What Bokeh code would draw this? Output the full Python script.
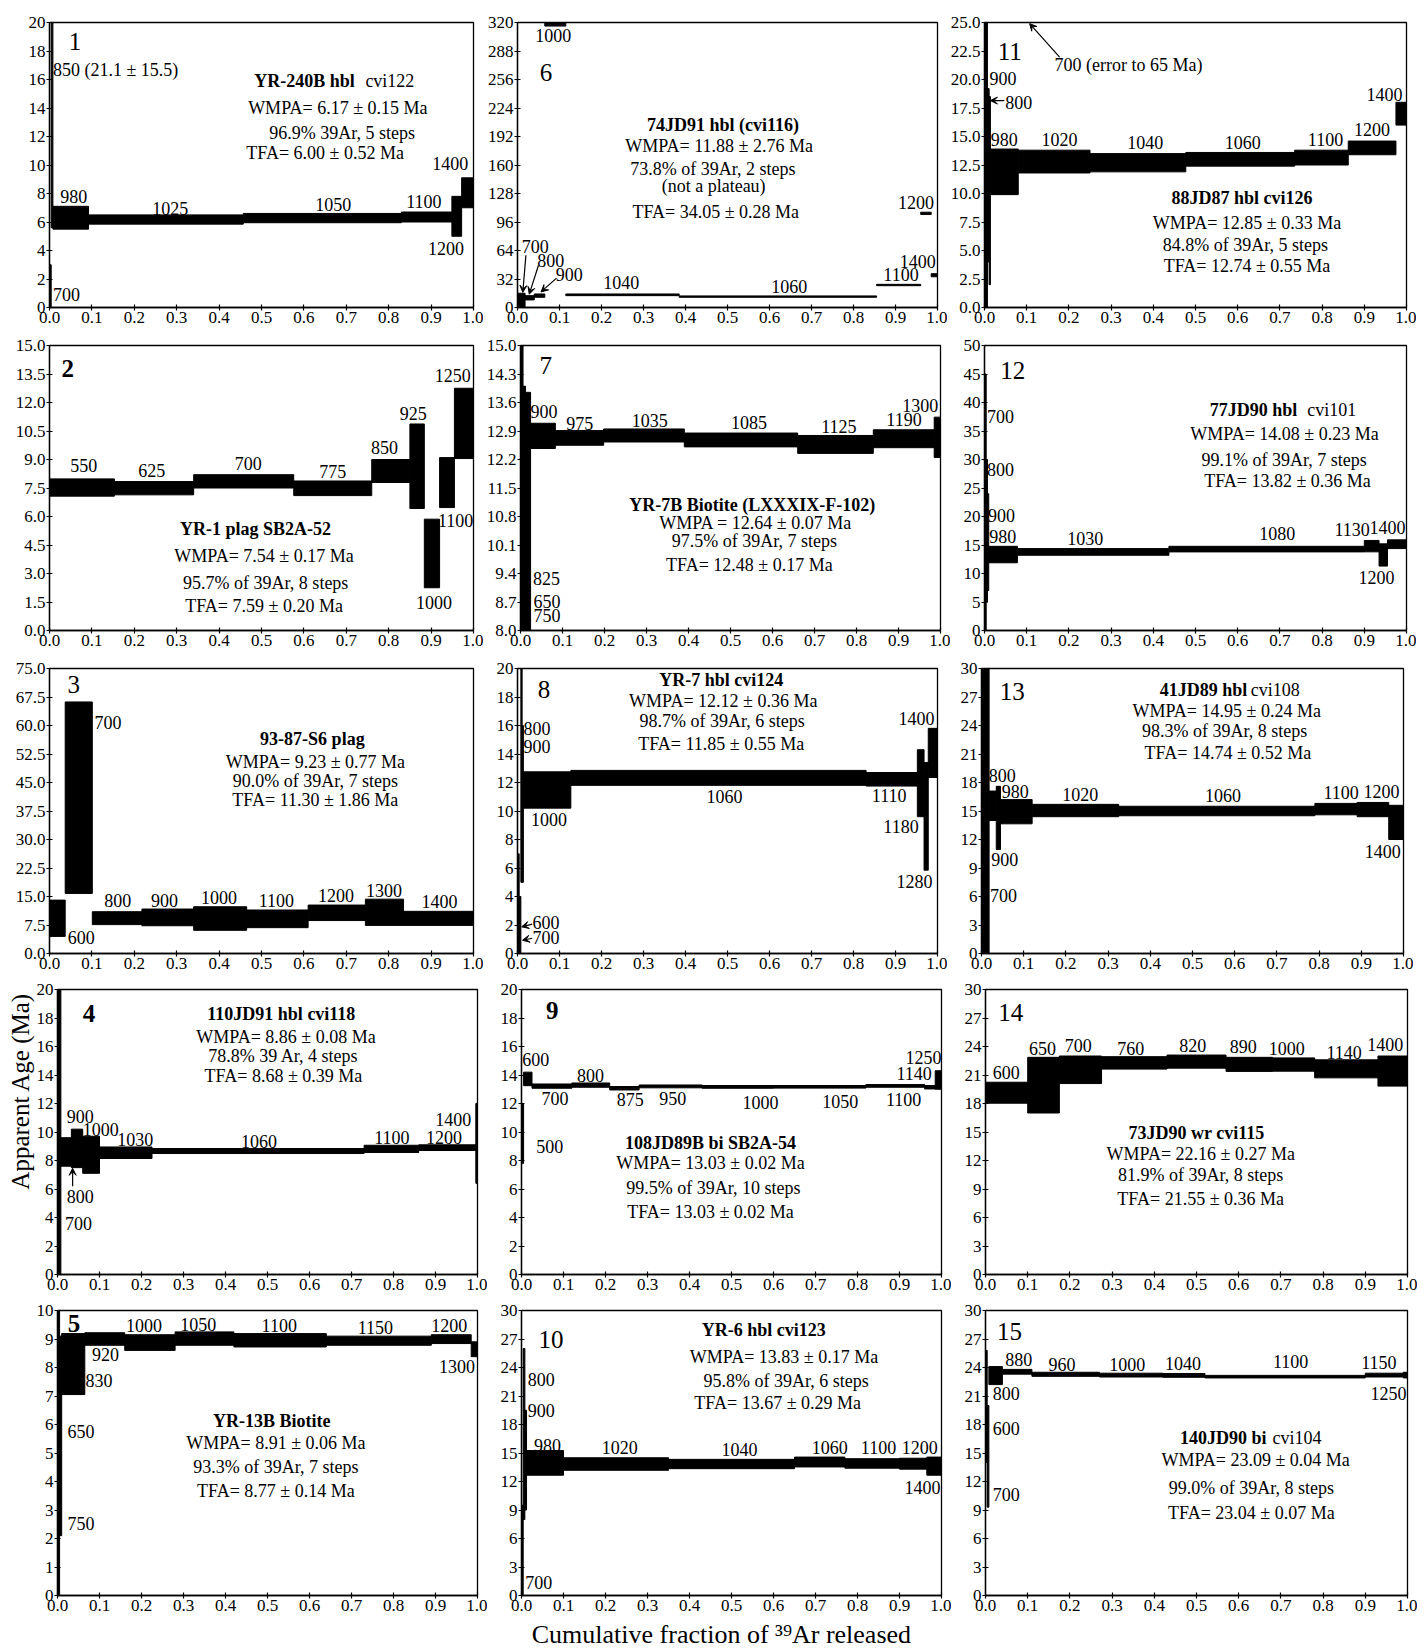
import math
from bokeh.plotting import figure
from bokeh.layouts import column, row
from bokeh.models import (Range1d, FixedTicker, Arrow, VeeHead, NumeralTickFormatter, LinearAxis,
                          CustomJSTickFormatter, Title)
from bokeh.core.properties import value
from bokeh.embed import file_html
from bokeh.resources import INLINE

FONT = "Liberation Serif"

x_tick_labels = ["0.0", "0.1", "0.2", "0.3", "0.4", "0.5", "0.6", "0.7", "0.8", "0.9", "1.0"]
y_title = "Apparent Age (Ma)"
x_title = "Cumulative fraction of \u00b3\u2079Ar released"

# ---------------- data: steps (temperature), cumulative 39Ar fraction edges, age band low/high (Ma)
p1_temp = ["700", "850", "980", "1025", "1050", "1100", "1200", "1400"]
p1_cum = [0.0, 0.004, 0.008, 0.092, 0.457, 0.83, 0.949, 0.972, 1.0]
p1_lo = [0.0, 5.6, 5.5, 5.85, 5.95, 6.0, 5.0, 7.0]
p1_hi = [3.0, 36.6, 7.1, 6.5, 6.6, 6.7, 7.8, 9.1]
p1_yticks = ["0", "2", "4", "6", "8", "10", "12", "14", "16", "18", "20"]

p2_temp = ["550", "625", "700", "775", "850", "925", "1000", "1100", "1250"]
p2_cum = [0.0, 0.153, 0.34, 0.576, 0.76, 0.85, 0.884, 0.92, 0.955, 1.0]
p2_lo = [7.07, 7.14, 7.5, 7.1, 7.79, 6.42, 2.25, 6.47, 9.05]
p2_hi = [7.98, 7.84, 8.2, 7.87, 9.0, 10.87, 5.86, 9.1, 12.75]
p2_yticks = ["0.0", "1.5", "3.0", "4.5", "6.0", "7.5", "9.0", "10.5", "12.0", "13.5", "15.0"]

p3_temp = ["600", "700", "800", "900", "1000", "1100", "1200", "1300", "1400"]
p3_cum = [0.0, 0.037, 0.101, 0.218, 0.34, 0.465, 0.61, 0.745, 0.835, 1.0]
p3_lo = [4.5, 15.8, 7.6, 7.3, 6.1, 6.8, 8.67, 7.4, 7.4]
p3_hi = [14.05, 66.2, 11.0, 11.7, 12.3, 11.45, 12.75, 14.3, 11.1]
p3_yticks = ["0.0", "7.5", "15.0", "22.5", "30.0", "37.5", "45.0", "52.5", "60.0", "67.5", "75.0"]

p4_temp = ["700", "800", "900", "1000", "1030", "1060", "1100", "1200", "1400"]
p4_cum = [0.0, 0.008, 0.033, 0.06, 0.1, 0.225, 0.73, 0.86, 0.996, 1.0]
p4_lo = [-1.0, 7.6, 7.5, 7.1, 8.14, 8.49, 8.56, 8.7, 6.4]
p4_hi = [25.0, 9.6, 10.2, 9.7, 8.95, 8.84, 9.07, 9.1, 12.0]
p4_yticks = ["0", "2", "4", "6", "8", "10", "12", "14", "16", "18", "20"]

p5_temp = ["650", "750", "830", "920", "1000", "1050", "1100", "1150", "1200", "1300"]
p5_cum = [0.0, 0.005, 0.01, 0.065, 0.16, 0.28, 0.42, 0.64, 0.89, 0.985, 1.0]
p5_lo = [-1.0, 2.1, 7.05, 8.78, 8.6, 8.78, 8.72, 8.78, 8.84, 8.38]
p5_hi = [11.0, 9.1, 9.19, 9.22, 9.15, 9.25, 9.19, 9.1, 9.15, 8.9]
p5_yticks = ["0", "1", "2", "3", "4", "5", "6", "7", "8", "9", "10"]

p6_temp = ["700", "800", "900", "1000", "1040", "1060", "1100", "1200", "1400"]
p6_cum = [0.0, 0.018, 0.04, 0.065, 0.115, 0.385, 0.855, 0.96, 0.985, 1.0]
p6_lo = [0.0, 8.5, 11.5, 316.0, 13.3, 11.5, 24.5, 104.5, 34.5]
p6_hi = [16.0, 13.3, 15.2, 324.0, 15.2, 13.0, 26.0, 107.0, 38.0]
p6_yticks = ["0", "32", "64", "96", "128", "160", "192", "224", "256", "288", "320"]

p7_temp = ["650", "750", "825", "900", "975", "1035", "1085", "1125", "1190", "1300"]
p7_cum = [0.0, 0.006, 0.012, 0.024, 0.083, 0.198, 0.39, 0.66, 0.84, 0.985, 1.0]
p7_lo = [5.0, 4.0, 7.0, 12.47, 12.55, 12.63, 12.51, 12.35, 12.49, 12.25]
p7_hi = [20.0, 14.0, 13.85, 13.09, 12.91, 12.95, 12.85, 12.79, 12.93, 13.24]
p7_yticks = ["8.0", "8.7", "9.4", "10.1", "10.8", "11.5", "12.2", "12.9", "13.6", "14.3", "15.0"]

p8_temp = ["600", "700", "800", "900", "1000", "1060", "1110", "1180", "1280", "1400"]
p8_cum = [0.0, 0.004, 0.008, 0.011, 0.014, 0.127, 0.83, 0.952, 0.968, 0.978, 1.0]
p8_lo = [-3.0, -2.0, 5.0, 5.0, 10.2, 11.8, 11.75, 9.6, 5.85, 12.35]
p8_hi = [7.0, 4.0, 26.0, 16.0, 12.75, 12.85, 12.7, 14.3, 13.4, 15.8]
p8_yticks = ["0", "2", "4", "6", "8", "10", "12", "14", "16", "18", "20"]

p9_temp = ["500", "600", "700", "800", "875", "950", "1000", "1050", "1100", "1140", "1250"]
p9_cum = [0.0, 0.005, 0.025, 0.12, 0.21, 0.28, 0.43, 0.6, 0.82, 0.96, 0.985, 1.0]
p9_lo = [7.8, 13.25, 13.07, 13.14, 12.95, 13.1, 13.07, 13.08, 13.14, 13.02, 13.0]
p9_hi = [12.0, 14.2, 13.37, 13.44, 13.19, 13.3, 13.26, 13.26, 13.33, 13.26, 14.3]
p9_yticks = ["0", "2", "4", "6", "8", "10", "12", "14", "16", "18", "20"]

p10_temp = ["700", "800", "900", "980", "1020", "1040", "1060", "1100", "1200", "1400"]
p10_cum = [0.0, 0.004, 0.008, 0.012, 0.1, 0.35, 0.65, 0.77, 0.9, 0.965, 1.0]
p10_lo = [0.0, 8.0, 9.0, 12.66, 13.18, 13.35, 13.53, 13.4, 13.3, 12.66]
p10_hi = [9.5, 26.0, 19.5, 15.26, 14.5, 14.33, 14.57, 14.4, 14.45, 14.57]
p10_yticks = ["0", "3", "6", "9", "12", "15", "18", "21", "24", "27", "30"]

p11_temp = ["700", "800", "900", "980", "1020", "1040", "1060", "1100", "1200", "1400"]
p11_cum = [0.0, 0.007, 0.011, 0.014, 0.08, 0.25, 0.477, 0.735, 0.862, 0.975, 1.0]
p11_lo = [-5.0, 4.0, 2.0, 9.9, 11.8, 11.9, 12.4, 12.5, 13.4, 16.0]
p11_hi = [65.0, 19.2, 18.5, 13.9, 13.8, 13.5, 13.6, 13.8, 14.6, 18.0]
p11_yticks = ["0.0", "2.5", "5.0", "7.5", "10.0", "12.5", "15.0", "17.5", "20.0", "22.5", "25.0"]

p12_temp = ["700", "800", "900", "980", "1030", "1080", "1130", "1200", "1400"]
p12_cum = [0.0, 0.004, 0.007, 0.01, 0.078, 0.437, 0.9, 0.935, 0.955, 1.0]
p12_lo = [0.0, 5.0, 7.0, 11.88, 13.2, 13.79, 13.8, 11.3, 14.37]
p12_hi = [45.0, 30.0, 24.0, 14.77, 14.37, 14.77, 15.8, 15.2, 15.9]
p12_yticks = ["0", "5", "10", "15", "20", "25", "30", "35", "40", "45", "50"]

p13_temp = ["700", "800", "900", "980", "1020", "1060", "1100", "1200", "1400"]
p13_cum = [0.0, 0.018, 0.035, 0.045, 0.12, 0.325, 0.79, 0.89, 0.965, 1.0]
p13_lo = [-2.0, 14.0, 10.95, 13.65, 14.4, 14.5, 14.6, 14.4, 12.0]
p13_hi = [35.0, 17.1, 17.6, 16.2, 15.7, 15.5, 15.8, 15.9, 15.6]
p13_yticks = ["0", "3", "6", "9", "12", "15", "18", "21", "24", "27", "30"]

p14_temp = ["600", "650", "700", "760", "820", "890", "1000", "1140", "1400"]
p14_cum = [0.0, 0.1, 0.175, 0.275, 0.43, 0.57, 0.68, 0.78, 0.93, 1.0]
p14_lo = [18.03, 17.0, 20.1, 21.62, 21.72, 21.38, 21.4, 20.7, 19.83]
p14_hi = [20.24, 22.86, 23.0, 22.93, 23.1, 22.86, 22.8, 22.6, 23.0]
p14_yticks = ["0", "3", "6", "9", "12", "15", "18", "21", "24", "27", "30"]

p15_temp = ["600", "700", "800", "880", "960", "1000", "1040", "1100", "1150", "1250"]
p15_cum = [0.0, 0.004, 0.008, 0.04, 0.11, 0.27, 0.42, 0.52, 0.9, 0.99, 1.0]
p15_lo = [14.0, 9.3, 22.2, 23.3, 23.07, 23.0, 22.97, 22.9, 23.0, 22.9]
p15_hi = [25.8, 20.0, 24.1, 23.8, 23.5, 23.4, 23.37, 23.17, 23.4, 23.5]
p15_yticks = ["0", "3", "6", "9", "12", "15", "18", "21", "24", "27", "30"]

# ---------------- annotations (texts with positions in data units)
B, N = "bold", "normal"
PANELS = {
    1: dict(data=(p1_cum, p1_lo, p1_hi, p1_yticks), num=(0.06, 18.7, N),
            steps=[("850 (21.1 ± 15.5)", 0.008, 16.7, N, "left"), ("700", 0.008, 0.93, N, "left"),
                   ("980", 0.057, 7.77), ("1025", 0.285, 6.93), ("1050", 0.669, 7.23), ("1100", 0.883, 7.47),
                   ("1400", 0.945, 10.1), ("1200", 0.935, 4.13)],
            info=[("YR-240B hbl", 0.72, 15.9, B, "right"), ("cvi122", 0.745, 15.9, N, "left"),
                  ("WMPA= 6.17 ± 0.15 Ma", 0.68, 14.0), ("96.9% 39Ar, 5 steps", 0.69, 12.25),
                  ("TFA= 6.00 ± 0.52 Ma", 0.65, 10.85)],
            arrows=[]),
    2: dict(data=(p2_cum, p2_lo, p2_hi, p2_yticks), num=(0.043, 13.8, B),
            steps=[("550", 0.081, 8.67), ("625", 0.241, 8.41), ("700", 0.469, 8.79), ("775", 0.668, 8.38),
                   ("850", 0.79, 9.62), ("925", 0.858, 11.44), ("1250", 0.951, 13.44), ("1100", 0.958, 5.81),
                   ("1000", 0.907, 1.47)],
            info=[("YR-1 plag SB2A-52", 0.486, 5.34, B), ("WMPA= 7.54 ± 0.17 Ma", 0.506, 3.9),
                  ("95.7% of 39Ar, 8 steps", 0.51, 2.51), ("TFA= 7.59 ± 0.20 Ma", 0.506, 1.3)],
            arrows=[]),
    3: dict(data=(p3_cum, p3_lo, p3_hi, p3_yticks), num=(0.057, 70.7, N),
            steps=[("700", 0.106, 60.7, N, "left"), ("600", 0.075, 4.3), ("800", 0.161, 13.9), ("900", 0.271, 14.05),
                   ("1000", 0.4, 14.7), ("1100", 0.535, 13.9), ("1200", 0.676, 15.2), ("1300", 0.789, 16.65),
                   ("1400", 0.92, 13.7)],
            info=[("93-87-S6 plag", 0.62, 56.4, B), ("WMPA= 9.23 ± 0.77 Ma", 0.627, 50.3),
                  ("90.0% of 39Ar, 7 steps", 0.627, 45.5), ("TFA= 11.30 ± 1.86 Ma", 0.627, 40.3)],
            arrows=[]),
    4: dict(data=(p4_cum, p4_lo, p4_hi, p4_yticks), num=(0.075, 18.3, B),
            steps=[("900", 0.054, 11.1), ("1000", 0.103, 10.2), ("1030", 0.185, 9.5), ("1060", 0.48, 9.35),
                   ("1100", 0.796, 9.58), ("1200", 0.92, 9.58), ("1400", 0.942, 10.9), ("800", 0.054, 5.47),
                   ("700", 0.05, 3.6)],
            info=[("110JD91 hbl cvi118", 0.533, 18.3, B), ("WMPA= 8.86 ± 0.08 Ma", 0.544, 16.7),
                  ("78.8% 39 Ar, 4 steps", 0.538, 15.35), ("TFA= 8.68 ± 0.39 Ma", 0.538, 13.95)],
            arrows=[(0.036, 6.2, 0.036, 7.45)]),
    5: dict(data=(p5_cum, p5_lo, p5_hi, p5_yticks), num=(0.039, 9.54, B),
            steps=[("1000", 0.206, 9.48), ("1050", 0.335, 9.51), ("1100", 0.528, 9.48), ("1150", 0.757, 9.42),
                   ("1200", 0.933, 9.48), ("920", 0.114, 8.44), ("830", 0.099, 7.53), ("1300", 0.951, 8.03),
                   ("650", 0.056, 5.77), ("750", 0.056, 2.53)],
            info=[("YR-13B Biotite", 0.51, 6.14, B), ("WMPA= 8.91 ± 0.06 Ma", 0.52, 5.34),
                  ("93.3% of 39Ar, 7 steps", 0.52, 4.5), ("TFA= 8.77 ± 0.14 Ma", 0.52, 3.68)],
            arrows=[]),
    6: dict(data=(p6_cum, p6_lo, p6_hi, p6_yticks), num=(0.068, 264, N),
            steps=[("1000", 0.085, 305), ("700", 0.042, 68), ("800", 0.079, 53), ("900", 0.123, 37),
                   ("1040", 0.247, 28), ("1060", 0.647, 23.4), ("1100", 0.913, 37), ("1400", 0.953, 52),
                   ("1200", 0.949, 118)],
            info=[("74JD91 hbl (cvi116)", 0.489, 205, B), ("WMPA= 11.88 ± 2.76 Ma", 0.48, 181),
                  ("73.8% of 39Ar, 2 steps", 0.465, 156), ("(not a plateau)", 0.467, 136),
                  ("TFA= 34.05 ± 0.28 Ma", 0.472, 107)],
            arrows=[(0.02, 58.6, 0.0126, 17.0), (0.05, 47.5, 0.028, 15.0), (0.093, 33.0, 0.056, 17.5)]),
    7: dict(data=(p7_cum, p7_lo, p7_hi, p7_yticks), num=(0.06, 14.5, N),
            steps=[("900", 0.056, 13.39), ("975", 0.141, 13.09), ("1035", 0.308, 13.17), ("1085", 0.544, 13.11),
                   ("1125", 0.758, 13.01), ("1190", 0.913, 13.19), ("1300", 0.952, 13.53), ("825", 0.062, 9.28),
                   ("650", 0.063, 8.72), ("750", 0.063, 8.38)],
            info=[("YR-7B Biotite (LXXXIX-F-102)", 0.552, 11.09, B), ("WMPA = 12.64 ± 0.07 Ma", 0.56, 10.65),
                  ("97.5% of 39Ar, 7 steps", 0.557, 10.2), ("TFA= 12.48 ± 0.17 Ma", 0.545, 9.6)],
            arrows=[]),
    8: dict(data=(p8_cum, p8_lo, p8_hi, p8_yticks), num=(0.063, 18.5, N),
            steps=[("800", 0.014, 15.8, N, "left"), ("900", 0.014, 14.56, N, "left"), ("1000", 0.075, 9.42),
                   ("1060", 0.493, 11.05), ("1110", 0.885, 11.12), ("1180", 0.913, 8.88), ("1280", 0.945, 5.05),
                   ("1400", 0.95, 16.5), ("600", 0.036, 2.17, N, "left"), ("700", 0.036, 1.12, N, "left")],
            info=[("YR-7 hbl cvi124", 0.485, 19.2, B), ("WMPA= 12.12 ± 0.36 Ma", 0.49, 17.7),
                  ("98.7% of 39Ar, 6 steps", 0.487, 16.3), ("TFA= 11.85 ± 0.55 Ma", 0.485, 14.7)],
            arrows=[(0.035, 2.06, 0.01, 1.87), (0.035, 1.07, 0.012, 0.93)]),
    9: dict(data=(p9_cum, p9_lo, p9_hi, p9_yticks), num=(0.073, 18.5, B),
            steps=[("600", 0.034, 15.07), ("800", 0.164, 13.95), ("700", 0.08, 12.37), ("875", 0.259, 12.28),
                   ("950", 0.36, 12.33), ("1000", 0.569, 12.05), ("1050", 0.759, 12.14), ("1100", 0.91, 12.28),
                   ("1140", 0.935, 14.14), ("1250", 0.957, 15.23), ("500", 0.067, 8.95)],
            info=[("108JD89B bi SB2A-54", 0.45, 9.2, B), ("WMPA= 13.03 ± 0.02 Ma", 0.45, 7.8),
                  ("99.5% of 39Ar, 10 steps", 0.457, 6.1), ("TFA= 13.03 ± 0.02 Ma", 0.45, 4.4)],
            arrows=[]),
    10: dict(data=(p10_cum, p10_lo, p10_hi, p10_yticks), num=(0.07, 27.0, N),
             steps=[("800", 0.047, 22.7), ("900", 0.047, 19.5), ("980", 0.062, 15.8), ("1020", 0.234, 15.6),
                    ("1040", 0.519, 15.33), ("1060", 0.734, 15.6), ("1100", 0.85, 15.54), ("1200", 0.948, 15.54),
                    ("1400", 0.955, 11.38), ("700", 0.041, 1.39)],
             info=[("YR-6 hbl cvi123", 0.577, 27.9, B), ("WMPA= 13.83 ± 0.17 Ma", 0.625, 25.1),
                   ("95.8% of 39Ar, 6 steps", 0.63, 22.6), ("TFA= 13.67 ± 0.29 Ma", 0.61, 20.3)],
             arrows=[]),
    11: dict(data=(p11_cum, p11_lo, p11_hi, p11_yticks), num=(0.06, 22.5, N),
             steps=[("700 (error to 65 Ma)", 0.166, 21.3, N, "left"), ("900", 0.012, 20.1, N, "left"),
                    ("800", 0.049, 18.0, N, "left"), ("980", 0.047, 14.74), ("1020", 0.178, 14.74),
                    ("1040", 0.381, 14.45), ("1060", 0.612, 14.5), ("1100", 0.808, 14.74), ("1200", 0.918, 15.6),
                    ("1400", 0.948, 18.7)],
             info=[("88JD87 hbl cvi126", 0.61, 9.6, B), ("WMPA= 12.85 ± 0.33 Ma", 0.622, 7.37),
                   ("84.8% of 39Ar, 5 steps", 0.618, 5.5), ("TFA= 12.74 ± 0.55 Ma", 0.622, 3.6)],
             arrows=[(0.178, 21.97, 0.107, 24.9), (0.047, 18.15, 0.014, 18.15)]),
    12: dict(data=(p12_cum, p12_lo, p12_hi, p12_yticks), num=(0.067, 45.6, N),
             steps=[("700", 0.006, 37.5, N, "left"), ("800", 0.006, 28.3, N, "left"), ("900", 0.008, 20.2, N, "left"),
                    ("980", 0.043, 16.5), ("1030", 0.239, 16.1), ("1080", 0.694, 17.0), ("1130", 0.871, 17.8),
                    ("1400", 0.955, 18.1), ("1200", 0.929, 9.27)],
             info=[("77JD90 hbl", 0.741, 38.7, B, "right"), ("cvi101", 0.765, 38.7, N, "left"),
                   ("WMPA= 14.08 ± 0.23 Ma", 0.711, 34.4), ("99.1% of 39Ar, 7 steps", 0.71, 30.0),
                   ("TFA= 13.82 ± 0.36 Ma", 0.718, 26.2)],
             arrows=[]),
    13: dict(data=(p13_cum, p13_lo, p13_hi, p13_yticks), num=(0.073, 27.6, N),
             steps=[("800", 0.017, 18.7, N, "left"), ("980", 0.08, 17.1), ("900", 0.023, 9.9, N, "left"),
                    ("700", 0.02, 6.1, N, "left"), ("1020", 0.234, 16.7), ("1060", 0.572, 16.6), ("1100", 0.852, 16.9),
                    ("1200", 0.948, 17.1), ("1400", 0.951, 10.7)],
             info=[("41JD89 hbl", 0.63, 27.7, B, "right"), ("cvi108", 0.638, 27.7, N, "left"),
                   ("WMPA= 14.95 ± 0.24 Ma", 0.581, 25.5), ("98.3% of 39Ar, 8 steps", 0.576, 23.4),
                   ("TFA= 14.74 ± 0.52 Ma", 0.584, 21.1)],
             arrows=[]),
    14: dict(data=(p14_cum, p14_lo, p14_hi, p14_yticks), num=(0.06, 27.6, N),
             steps=[("600", 0.049, 21.3), ("650", 0.135, 23.8), ("700", 0.22, 24.07), ("760", 0.344, 23.8),
                    ("820", 0.491, 24.14), ("890", 0.611, 23.97), ("1000", 0.714, 23.8), ("1140", 0.85, 23.34),
                    ("1400", 0.947, 24.24)],
             info=[("73JD90 wr cvi115", 0.5, 14.9, B), ("WMPA= 22.16 ± 0.27 Ma", 0.51, 12.7),
                   ("81.9% of 39Ar, 8 steps", 0.51, 10.5), ("TFA= 21.55 ± 0.36 Ma", 0.51, 7.9)],
             arrows=[]),
    15: dict(data=(p15_cum, p15_lo, p15_hi, p15_yticks), num=(0.057, 27.8, N),
             steps=[("880", 0.079, 24.87), ("960", 0.181, 24.35), ("1000", 0.336, 24.35), ("1040", 0.468, 24.45),
                    ("1100", 0.723, 24.6), ("1150", 0.932, 24.56), ("800", 0.049, 21.3), ("1250", 0.955, 21.3),
                    ("600", 0.049, 17.6), ("700", 0.049, 10.65)],
             info=[("140JD90 bi", 0.666, 16.6, B, "right"), ("cvi104", 0.68, 16.6, N, "left"),
                   ("WMPA= 23.09 ± 0.04 Ma", 0.64, 14.3), ("99.0% of 39Ar, 8 steps", 0.63, 11.3),
                   ("TFA= 23.04 ± 0.07 Ma", 0.63, 8.7)],
             arrows=[]),
}

GRID = [[1, 6, 11], [2, 7, 12], [3, 8, 13], [4, 9, 14], [5, 10, 15]]
FRAME_H = 285
ROW_BORDERS = [(22, 26), (12, 26), (12, 26), (10, 26), (10, 40)]
COLS_TOP = [(49, 424, 10), (34, 420, 10), (34, 422, 10)]
COLS_BOTTOM = [(57, 420, 10), (34, 420, 10), (34, 422, 10)]


def add_texts(p, items, size):
    groups = {}
    for it in items:
        txt, x, y = it[0], it[1], it[2]
        style = it[3] if len(it) > 3 else "normal"
        align = it[4] if len(it) > 4 else "center"
        g = groups.setdefault((style, align), ([], [], []))
        g[0].append(x)
        g[1].append(y)
        g[2].append(txt)
    for (style, align), (xs, ys, ts) in groups.items():
        p.text(x=xs, y=ys, text=ts, text_font=value(FONT), text_font_size=size,
               text_font_style=style, text_align=align, text_baseline="middle", text_color="black")


def make_panel(n, bl, fw, br, bt, bb):
    cfg = PANELS[n]
    cum, lo, hi, ylabels = cfg["data"]
    yt = [float(s) for s in ylabels]
    xt = [float(s) for s in x_tick_labels]
    p = figure(frame_width=fw, frame_height=FRAME_H,
               x_range=Range1d(0.0, 1.0), y_range=Range1d(yt[0], yt[-1]),
               output_backend="svg", toolbar_location=None,
               min_border_left=bl, min_border_right=br, min_border_top=bt, min_border_bottom=bb)
    p.grid.visible = False
    p.outline_line_color = "black"
    p.outline_line_width = 1.3
    p.background_fill_color = "white"
    p.border_fill_color = "white"

    p.quad(left=cum[:-1], right=cum[1:], bottom=lo, top=hi,
           fill_color="black", line_color="black", line_width=1)

    for ax, ticks, labels in ((p.xaxis[0], xt, x_tick_labels), (p.yaxis[0], yt, ylabels)):
        ax.ticker = FixedTicker(ticks=ticks)
        ax.formatter = NumeralTickFormatter(format="0.0" if "." in labels[0] else "0")
        ax.major_label_overrides = {t: s for t, s in zip(ticks, labels)}
        ax.major_tick_in = 3
        ax.major_tick_out = 3
        ax.minor_tick_line_color = None
        ax.axis_line_color = "black"
        ax.axis_line_width = 1.3
        ax.major_tick_line_color = "black"
        ax.major_tick_line_width = 1.2
        ax.major_label_standoff = 1
        ax.major_label_text_font = FONT
        ax.major_label_text_font_size = "17px"
        ax.major_label_text_color = "black"

    add_texts(p, cfg["steps"], "18px")
    add_texts(p, cfg["info"], "18px")
    nx, ny, nst = cfg["num"]
    add_texts(p, [(str(n), nx, ny, nst, "center")], "25px")
    for (x0, y0, x1, y1) in cfg["arrows"]:
        p.add_layout(Arrow(end=VeeHead(size=7, fill_color="black", line_color="black", line_width=1),
                           x_start=x0, y_start=y0, x_end=x1, y_end=y1,
                           line_color="black", line_width=1.2))
    return p


def title_axis(text, at, size, standoff):
    ax = LinearAxis(ticker=FixedTicker(ticks=[at]),
                    formatter=CustomJSTickFormatter(args=dict(t=text), code="return t"))
    ax.axis_line_color = None
    ax.major_tick_line_color = None
    ax.minor_tick_line_color = None
    ax.major_tick_in = 0
    ax.major_tick_out = 0
    ax.major_label_standoff = standoff
    ax.major_label_text_font = FONT
    ax.major_label_text_font_size = size
    ax.major_label_text_color = "black"
    return ax


figs = {}
rows = []
for ri, ids in enumerate(GRID):
    bt, bb = ROW_BORDERS[ri]
    cols = COLS_TOP if ri < 3 else COLS_BOTTOM
    r = []
    for ci, n in enumerate(ids):
        bl, fw, br = cols[ci]
        f = make_panel(n, bl, fw, br, bt, bb)
        figs[n] = f
        r.append(f)
    rows.append(row(*r, spacing=0))

# shared axis titles: vertical title beside panel 4, label-only axis below panel 10
figs[4].add_layout(Title(text=y_title, align="right", offset=3, standoff=0,
                         text_font=FONT, text_font_size="25px", text_font_style="normal",
                         text_color="black"), "left")
figs[10].add_layout(title_axis(x_title, 0.476, "26px", 6), "below")

layout = column(*rows, spacing=0)
open("out.html", "w").write(file_html(layout, INLINE))
